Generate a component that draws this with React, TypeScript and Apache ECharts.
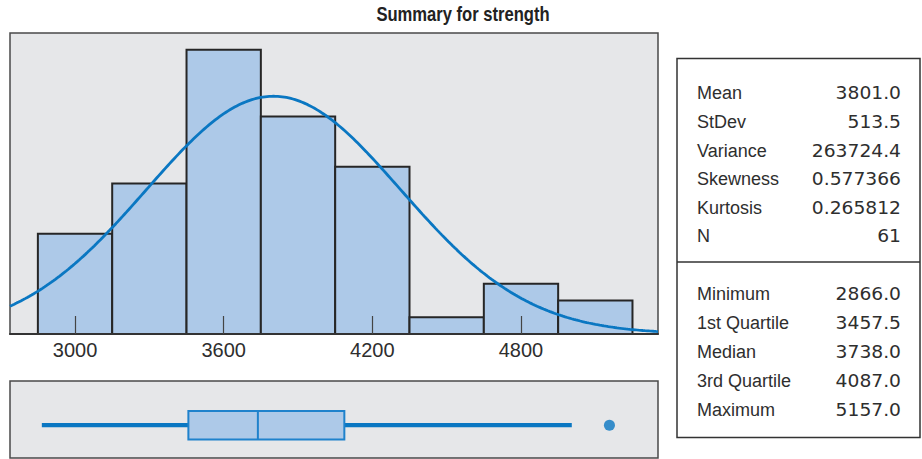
import React, { useEffect, useRef } from "react";
import * as echarts from "echarts";

// ---- data ----
const BIN_EDGES = [2850, 3150, 3450, 3750, 4050, 4350, 4650, 4950, 5250];
const COUNTS = [6, 9, 17, 13, 10, 1, 3, 2];
const X_TICKS = [3000, 3600, 4200, 4800];
const MEAN = 3801.0;
const STDEV = 513.5;
const N = 61;
// whisker low, Q1, median, Q3, whisker high
const BOX = [2866, 3457.5, 3738, 4087, 5005];
const OUTLIERS = [5157];
const STAT_LABELS_TOP = ["Mean", "StDev", "Variance", "Skewness", "Kurtosis", "N"];
const STAT_VALUES_TOP = ["3801.0", "513.5", "263724.4", "0.577366", "0.265812", "61"];
const STAT_LABELS_BOTTOM = ["Minimum", "1st Quartile", "Median", "3rd Quartile", "Maximum"];
const STAT_VALUES_BOTTOM = ["2866.0", "3457.5", "3738.0", "4087.0", "5157.0"];
const TITLE = "Summary for strength";

// ---- layout ----
const X_MIN = 2737.5;
const X_MAX = 5353;
const BOX_Y = 0.426;
const BAR_FILL = "#adc9e8";
const BLUE = "#0a77c2";
const TEXT = "#2e2e2e";

function normalCurve(): number[][] {
  const binW = BIN_EDGES[1] - BIN_EDGES[0];
  const pts: number[][] = [];
  const steps = 300;
  for (let i = 0; i <= steps; i++) {
    const x = X_MIN + ((X_MAX - X_MIN) * i) / steps;
    const z = (x - MEAN) / STDEV;
    const y = (N * binW * Math.exp(-0.5 * z * z)) / (STDEV * Math.sqrt(2 * Math.PI));
    pts.push([x, y]);
  }
  return pts;
}

export default function App() {
  const ref = useRef<HTMLDivElement>(null);
  useEffect(() => {
    if (!ref.current) return;
    const chart = echarts.init(ref.current, null, { renderer: "svg" });

    const histData = COUNTS.map((c, i) => [BIN_EDGES[i], BIN_EDGES[i + 1], c]);

    const statsGraphics: any[] = [];
    const topRows = [93.3, 121.9, 150.5, 179.1, 207.7, 236.3];
    const botRows = [293.7, 322.8, 351.8, 380.9, 410];
    const labelFont = { fontFamily: "'Liberation Sans', Arial, sans-serif", fontSize: 18, fill: TEXT };
    const valueFont = { fontFamily: "'DejaVu Sans', sans-serif", fontSize: 17, fill: TEXT };
    const addRow = (label: string, value: string, y: number) => {
      statsGraphics.push({ type: "text", x: 697, y, style: { text: label, ...labelFont, textAlign: "left", textVerticalAlign: "middle" } });
      statsGraphics.push({ type: "text", x: 901, y, scaleX: 1.1, style: { text: value, ...valueFont, textAlign: "right", textVerticalAlign: "middle" } });
    };
    STAT_LABELS_TOP.forEach((l, i) => addRow(l, STAT_VALUES_TOP[i], topRows[i]));
    STAT_LABELS_BOTTOM.forEach((l, i) => addRow(l, STAT_VALUES_BOTTOM[i], botRows[i]));

    chart.setOption({
      animation: false,
      backgroundColor: "#ffffff",
      grid: [
        { left: 10, top: 33, width: 648, height: 301, show: true, backgroundColor: "#e6e7e9", borderColor: "#4a4a4a", borderWidth: 1.5 },
        { left: 10, top: 381, width: 648, height: 77, show: true, backgroundColor: "#e6e7e9", borderColor: "#4a4a4a", borderWidth: 1.5 },
      ],
      xAxis: [
        {
          type: "value", gridIndex: 0, min: X_MIN, max: X_MAX, z: 10,
          axisLine: { show: true, onZero: false, lineStyle: { color: "#333", width: 2 } },
          axisTick: { show: true, inside: true, length: 18, customValues: X_TICKS, lineStyle: { color: "#444", width: 1.2 } },
          axisLabel: {
            show: true, customValues: X_TICKS, margin: 6, color: TEXT, fontSize: 20,
            fontFamily: "'Liberation Sans', Arial, sans-serif",
            formatter: (v: number) => String(v),
          },
          splitLine: { show: false },
        },
        {
          type: "value", gridIndex: 1, min: X_MIN, max: X_MAX, show: false, splitLine: { show: false },
        },
      ],
      yAxis: [
        { type: "value", gridIndex: 0, min: 0, max: 18, show: false, splitLine: { show: false } },
        { type: "value", gridIndex: 1, min: 0, max: 1, show: false, splitLine: { show: false } },
      ],
      series: [
        {
          type: "custom", xAxisIndex: 0, yAxisIndex: 0, data: histData, z: 2,
          renderItem: (params: any, api: any) => {
            const p0 = api.coord([api.value(0), 0]);
            const p1 = api.coord([api.value(1), api.value(2)]);
            return {
              type: "rect",
              shape: { x: p0[0], y: p1[1], width: p1[0] - p0[0], height: p0[1] - p1[1] },
              style: { fill: BAR_FILL, stroke: "#262626", lineWidth: 2 },
            };
          },
        },
        {
          type: "line", xAxisIndex: 0, yAxisIndex: 0, data: normalCurve(), showSymbol: false, smooth: false, z: 3,
          lineStyle: { color: BLUE, width: 2.8 }, clip: true,
        },
        {
          type: "custom", xAxisIndex: 1, yAxisIndex: 1, data: [[...BOX, BOX_Y]], z: 2,
          renderItem: (params: any, api: any) => {
            const y = api.value(5);
            const lo = api.coord([api.value(0), y]);
            const q1 = api.coord([api.value(1), y]);
            const md = api.coord([api.value(2), y]);
            const q3 = api.coord([api.value(3), y]);
            const hi = api.coord([api.value(4), y]);
            const h = 14.2;
            const cy = lo[1];
            return {
              type: "group",
              children: [
                { type: "line", shape: { x1: lo[0], y1: cy, x2: q1[0], y2: cy }, style: { stroke: BLUE, lineWidth: 4.3 } },
                { type: "line", shape: { x1: q3[0], y1: cy, x2: hi[0], y2: cy }, style: { stroke: BLUE, lineWidth: 4.3 } },
                { type: "rect", shape: { x: q1[0], y: cy - h, width: q3[0] - q1[0], height: 2 * h }, style: { fill: BAR_FILL, stroke: "#1f82cc", lineWidth: 2 } },
                { type: "line", shape: { x1: md[0], y1: cy - h, x2: md[0], y2: cy + h }, style: { stroke: "#1f82cc", lineWidth: 2 } },
              ],
            };
          },
        },
        {
          type: "scatter", xAxisIndex: 1, yAxisIndex: 1, data: OUTLIERS.map((v) => [v, BOX_Y]),
          symbol: "circle", symbolSize: 11, itemStyle: { color: BLUE }, z: 4,
        },
      ],
      graphic: [
        {
          type: "text", x: 463, y: 14, scaleX: 0.83,
          style: {
            text: TITLE, textAlign: "center", textVerticalAlign: "middle",
            fontFamily: "'Liberation Sans', Arial, sans-serif",
            fontWeight: "bold", fontSize: 20, fill: "#222",
          },
        },
        { type: "rect", shape: { x: 677, y: 58.5, width: 243, height: 379 }, style: { fill: "#fff", stroke: "#333", lineWidth: 1.5 } },
        { type: "line", shape: { x1: 677, y1: 262, x2: 920, y2: 262 }, style: { stroke: "#333", lineWidth: 1.5 } },
        ...statsGraphics,
      ],
    });
    return () => chart.dispose();
  }, []);
  return <div ref={ref} style={{ position: "fixed", left: 0, top: 0, width: 922, height: 459 }} />;
}
